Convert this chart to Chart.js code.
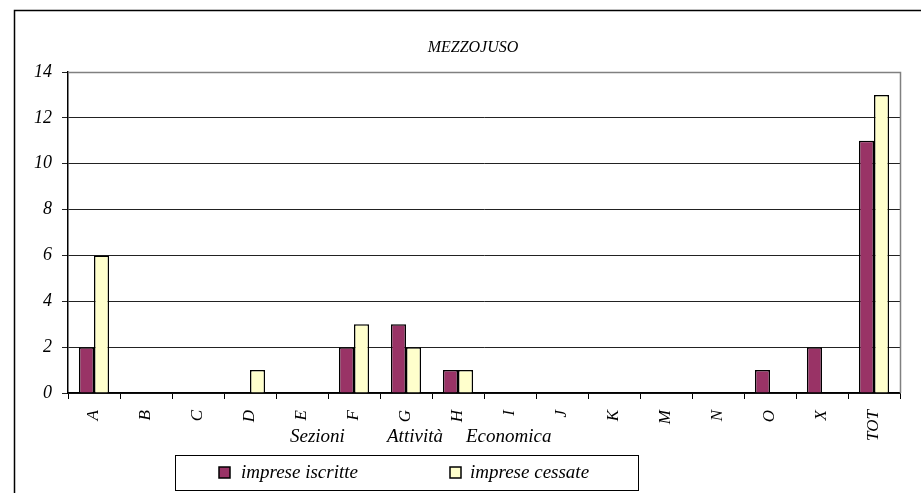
<!DOCTYPE html>
<html><head><meta charset="utf-8">
<script src="https://cdn.jsdelivr.net/npm/chart.js@4"></script>
<style>html,body{margin:0;padding:0;background:#fff}#wrap{width:921px;height:493px}</style>
</head><body><div id="wrap"><canvas id="c" width="921" height="493"></canvas></div>
<script>
const categories = ['A','B','C','D','E','F','G','H','I','J','K','M','N','O','X','TOT'];
const iscritte = [2,0,0,0,0,2,3,1,0,0,0,0,0,1,2,11];
const cessate  = [6,0,0,1,0,3,2,1,0,0,0,0,0,0,0,13];
const seriesNames = ['imprese iscritte','imprese cessate'];
const chartTitle = 'MEZZOJUSO';
const axisTitleWords = ['Sezioni','Attività','Economica'];
const yMin = 0, yMax = 14, yStep = 2;

const serif = '"Liberation Serif", "DejaVu Serif", serif';

const decor = {
  id: 'decor',
  beforeDraw(chart) {
    const ctx = chart.ctx;
    ctx.save();
    ctx.fillStyle = '#fff';
    ctx.fillRect(0, 0, chart.width, chart.height);
    ctx.strokeStyle = '#000';
    ctx.lineWidth = 1.5;
    ctx.strokeRect(14.5, 10.5, chart.width + 20, chart.height + 20);
    ctx.restore();
  },
  afterDraw(chart) {
    const ctx = chart.ctx;
    const a = chart.chartArea;
    ctx.save();
    ctx.strokeStyle = '#808080';
    ctx.lineWidth = 1.5;
    ctx.beginPath();
    ctx.moveTo(a.left, a.top + 0.5);
    ctx.lineTo(a.right + 0.5, a.top + 0.5);
    ctx.lineTo(a.right + 0.5, a.bottom);
    ctx.stroke();
    ctx.fillStyle = '#000';
    ctx.font = 'italic 16px ' + serif;
    ctx.textAlign = 'center';
    ctx.textBaseline = 'middle';
    ctx.fillText(chartTitle, 473, 48);
    ctx.font = 'italic 19px ' + serif;
    ctx.textAlign = 'left';
    const wx = [290, 387, 466];
    axisTitleWords.forEach((w, i) => ctx.fillText(w, wx[i], 437));
    ctx.strokeStyle = '#000';
    ctx.lineWidth = 1;
    ctx.strokeRect(175.5, 455.5, 463, 35);
    const ds = chart.data.datasets;
    const items = [[219, 241], [450, 470]];
    ctx.font = 'italic 19px ' + serif;
    ds.forEach((d, i) => {
      const [sx, tx] = items[i];
      ctx.fillStyle = d.backgroundColor;
      ctx.fillRect(sx, 467, 11, 11);
      ctx.lineWidth = 1.5;
      ctx.strokeRect(sx, 467, 11, 11);
      ctx.fillStyle = '#000';
      ctx.textBaseline = 'middle';
      ctx.fillText(d.label, tx, 473);
    });
    ctx.restore();
  }
};

new Chart(document.getElementById('c'), {
  type: 'bar',
  data: {
    labels: categories,
    datasets: [
      { label: seriesNames[0], data: iscritte, backgroundColor: '#993366', borderColor: '#000', borderWidth: 1.5 },
      { label: seriesNames[1], data: cessate, backgroundColor: '#FFFFCC', borderColor: '#000', borderWidth: 1.5 }
    ]
  },
  options: {
    responsive: false,
    animation: false,
    devicePixelRatio: 1,
    layout: { padding: { left: 14, top: 72, right: 21, bottom: 0 } },
    plugins: { legend: { display: false }, title: { display: false }, tooltip: { enabled: false } },
    datasets: { bar: { categoryPercentage: 0.58, barPercentage: 1 } },
    scales: {
      x: {
        offset: true,
        grid: { drawOnChartArea: false, drawTicks: true, tickLength: 6, color: '#000', offset: true },
        border: { color: '#000', width: 1.5 },
        ticks: { minRotation: 90, maxRotation: 90, padding: 11, color: '#000', font: { family: serif, style: 'italic', size: 17 } },
        afterFit(s) { s.height = 100; }
      },
      y: {
        min: yMin, max: yMax,
        grid: { color: '#222', lineWidth: 1, tickLength: 6, drawTicks: true },
        border: { color: '#000', width: 1.5 },
        ticks: { stepSize: yStep, padding: 10, color: '#000', font: { family: serif, style: 'italic', size: 18 } },
        afterFit(s) { s.width = 54; }
      }
    }
  },
  plugins: [decor]
});
</script></body></html>
